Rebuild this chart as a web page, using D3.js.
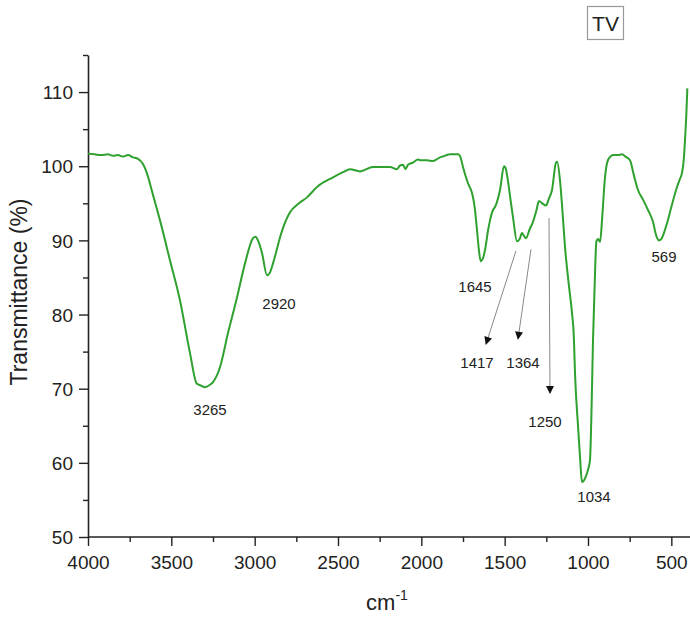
<!DOCTYPE html>
<html><head><meta charset="utf-8">
<script src="https://cdn.jsdelivr.net/npm/d3@7"></script>
<style>body{margin:0;background:#fff}svg{display:block}text{font-family:"Liberation Sans",Arial,sans-serif}</style>
</head><body>
<script>
const wavenumber = [4000,3960,3920,3880,3850,3820,3790,3760,3730,3700,3670,3640,3618,3590,3568,3508,3448,3388,3348,3320,3298,3270,3250,3208,3160,3106,3058,3010,2995,2975,2956,2926,2910,2890,2870,2848,2788,2740,2686,2626,2530,2470,2428,2368,2290,2230,2188,2146,2128,2110,2095,2080,2050,2020,2000,1966,1930,1888,1860,1828,1780,1765,1750,1720,1696,1680,1666,1655,1644,1630,1618,1600,1588,1570,1558,1528,1504,1495,1480,1465,1450,1426,1410,1396,1384,1372,1350,1330,1310,1294,1275,1252,1235,1216,1192,1185,1168,1155,1138,1115,1096,1085,1078,1060,1048,1036,1020,1006,995,988,980,970,960,950,940,928,915,900,886,870,850,820,796,775,748,725,700,670,640,610,590,575,560,540,526,500,466,450,436,425,418,410,404];
const transmittance = [101.7,101.6,101.5,101.6,101.4,101.5,101.3,101.5,101.2,101.0,100.3,98.6,96.8,94.5,92.7,87.3,81.9,74.8,70.7,70.4,70.2,70.5,70.9,72.9,77.5,82.3,86.9,90.3,90.5,89.7,88.3,85.3,85.6,86.9,88.5,90.4,93.8,94.9,95.8,97.2,98.5,99.2,99.6,99.3,99.9,99.9,99.9,99.6,100.1,100.2,99.6,100.2,100.5,100.9,100.8,100.8,100.7,101.2,101.4,101.6,101.6,101.2,99.9,97.7,96.4,94.5,91.4,88.8,87.2,87.6,88.7,91.3,92.7,94.1,94.5,96.8,100.0,99.8,98.0,95.5,93.1,89.9,90.2,91.0,90.6,90.3,91.5,92.5,94.0,95.3,95.0,94.7,95.6,96.8,100.5,100.6,98.1,94.5,89.1,84,80.2,77,72.1,65,60.8,57.4,57.8,58.6,59.5,60.4,66,76.5,84,89.8,90.2,89.8,93,98,100.4,101.2,101.5,101.5,101.6,101.3,100.8,98.8,96.8,95.5,94.1,92.5,90.6,90.0,90.2,91.3,92.3,94.5,97.2,98.2,99.1,101,103.5,107,110.5];

const xTicks = [4000,3500,3000,2500,2000,1500,1000,500];
const yTicks = [50,60,70,80,90,100,110];
const peakLabels = ["3265","2920","1645","1417","1364","1250","1034","569"];
const peakLabelPos = [[3268,67.1],[2854,81.4],[1678,83.7],[1666,73.5],[1390,73.5],[1258,65.6],[964,55.4],[544,87.8]];
const arrowFrom = [[1432,88.6],[1342,88.8],[1234,93.0]];
const arrowTo = [[1612,76.0],[1420,76.7],[1228,69.4]];

const W=690,H=619;
const svg=d3.select("body").append("svg").attr("width",W).attr("height",H);
const x=d3.scaleLinear().domain([4000,400]).range([88,688]);
const y=d3.scaleLinear().domain([50,115]).range([537,55]);

// minor ticks
const xMinor=d3.range(3750,400,-500);
const yMinor=d3.range(55,116,10);
svg.append("g").attr("transform","translate(0,537)")
  .call(d3.axisBottom(x).tickValues(xMinor).tickSize(5).tickFormat(""))
  .call(g=>g.select(".domain").remove());
svg.append("g").attr("transform","translate(88,0)")
  .call(d3.axisLeft(y).tickValues(yMinor).tickSize(5).tickFormat(""))
  .call(g=>g.select(".domain").remove());

const xa=svg.append("g").attr("transform","translate(0,537)")
  .call(d3.axisBottom(x).tickValues(xTicks).tickSize(9).tickSizeOuter(0).tickPadding(10).tickFormat(d3.format("d")));
xa.select(".domain").attr("d","M88,0H690");
xa.selectAll("text").attr("font-size",19).attr("fill","#222");
const ya=svg.append("g").attr("transform","translate(88,0)")
  .call(d3.axisLeft(y).tickValues(yTicks).tickSize(9).tickSizeOuter(0).tickPadding(6).tickFormat(d3.format("d")));
ya.selectAll("text").attr("font-size",19).attr("fill","#222").attr("dy","0.35em");
svg.selectAll(".domain").attr("stroke","#222").attr("stroke-width",1.6);
svg.selectAll(".tick line").attr("stroke","#222").attr("stroke-width",1.4);

// axis labels
svg.append("text").attr("transform","translate(27,292) rotate(-90)").attr("text-anchor","middle")
  .attr("font-size",23).attr("fill","#222").text("Transmittance (%)");
const xl=svg.append("text").attr("x",387).attr("y",610).attr("text-anchor","middle").attr("font-size",22).attr("fill","#222");
xl.append("tspan").text("cm");
xl.append("tspan").attr("dy",-10).attr("font-size",14).text("-1");

// TV box
svg.append("rect").attr("x",587.5).attr("y",6.5).attr("width",36).attr("height",33).attr("fill","#fff").attr("stroke","#999").attr("stroke-width",1.2);
svg.append("text").attr("x",605.5).attr("y",31).attr("text-anchor","middle").attr("font-size",21).attr("fill","#222").text("TV");

// curve
const pts=wavenumber.map((w,i)=>[w,transmittance[i]]);
svg.append("path").datum(pts).attr("fill","none").attr("stroke","#2ea12e").attr("stroke-width",2)
  .attr("stroke-linejoin","round")
  .attr("d",d3.line().x(d=>x(d[0])).y(d=>y(d[1])).curve(d3.curveMonotoneX));

// arrows
const defs=svg.append("defs");
defs.append("marker").attr("id","ah").attr("viewBox","0 0 10 10").attr("refX",9).attr("refY",5)
  .attr("markerWidth",9).attr("markerHeight",8).attr("markerUnits","userSpaceOnUse").attr("orient","auto")
  .append("path").attr("d","M0,0L10,5L0,10Z").attr("fill","#111");
arrowFrom.forEach((f,i)=>{
  svg.append("line").attr("x1",x(f[0])).attr("y1",y(f[1])).attr("x2",x(arrowTo[i][0])).attr("y2",y(arrowTo[i][1]))
    .attr("stroke","#888").attr("stroke-width",1).attr("marker-end","url(#ah)");
});

// peak labels
peakLabels.forEach((t,i)=>{
  svg.append("text").attr("x",x(peakLabelPos[i][0])).attr("y",y(peakLabelPos[i][1]))
    .attr("text-anchor","middle").attr("dy","0.35em").attr("font-size",15).attr("fill","#222").text(t);
});
</script>
</body></html>
